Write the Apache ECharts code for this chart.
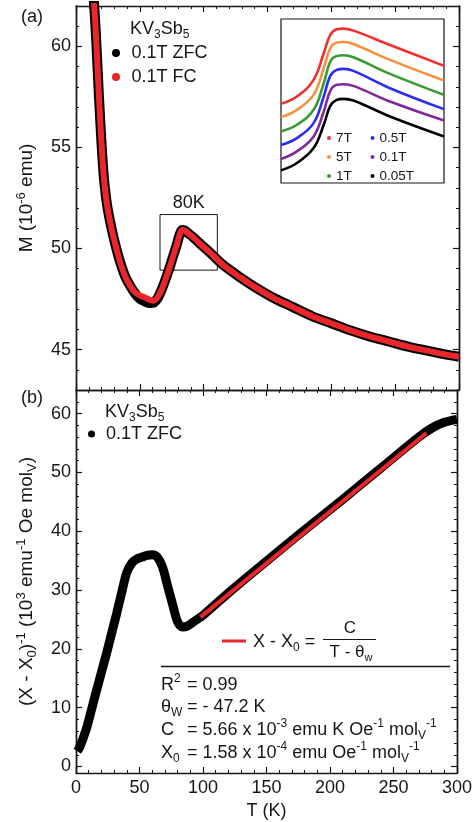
<!DOCTYPE html>
<html>
<head>
<meta charset="utf-8">
<script src="https://cdn.jsdelivr.net/npm/echarts@6/dist/echarts.min.js"></script>
<style>
  html, body { margin: 0; padding: 0; background: #fff; }
  #chart { width: 475px; height: 822px; }
</style>
</head>
<body>
<div id="chart"></div>
<script>
// ---- panel (a): M vs T, 0.1 T ZFC / FC ----
const tempA = [13.5, 14.5, 16, 18, 20, 21, 22, 23, 24, 25, 26.5, 28, 30, 32, 34, 38, 42, 46, 50, 54,
               58, 61, 64, 67, 70, 73, 76, 79, 81, 83, 85, 88, 92, 97, 105, 115, 128, 140, 155, 170,
               185, 200, 215, 230, 245, 260, 275, 290, 300];
const zfcM = [62.6, 61.8, 60.1, 57.5, 55.2, 54.2, 53.4, 52.8, 52.3, 51.9, 51.4, 50.95, 50.4, 49.9,
              49.45, 48.7, 48.2, 47.8, 47.52, 47.38, 47.3, 47.33, 47.55, 47.95, 48.45, 49.0, 49.6,
              50.2, 50.65, 50.92, 50.9, 50.75, 50.55, 50.25, 49.8, 49.2, 48.6, 48.1, 47.55, 47.1,
              46.65, 46.3, 45.95, 45.65, 45.4, 45.15, 44.95, 44.75, 44.65];
const fcM = [62.6, 61.8, 60.1, 57.5, 55.2, 54.2, 53.4, 52.8, 52.3, 51.9, 51.4, 50.95, 50.4, 49.9,
             49.45, 48.7, 48.2, 47.85, 47.68, 47.58, 47.46, 47.42, 47.6, 47.95, 48.45, 49.0, 49.6,
             50.2, 50.65, 50.92, 50.9, 50.75, 50.55, 50.25, 49.8, 49.2, 48.6, 48.1, 47.55, 47.1,
             46.65, 46.3, 45.95, 45.65, 45.4, 45.15, 44.95, 44.75, 44.65];
const boxT = [65.8, 110.7];
const boxM = [48.93, 51.68];

// ---- inset: curves around 80 K for several fields (offset, arb. units) ----
const insetT = [66, 70.4, 75, 77.8, 79.6, 81.4, 83.3, 86, 96.1, 111];
const inset7T   = [23.8, 26.0, 31.0, 39.0, 44.5, 46.2, 46.4, 45.8, 41.5, 35.2];
const inset5T   = [19.8, 22.0, 26.5, 34.5, 40.5, 42.2, 42.4, 41.8, 37.0, 30.8];
const inset1T   = [15.5, 17.5, 22.0, 30.0, 36.5, 38.2, 38.4, 37.8, 32.8, 26.5];
const inset05T  = [11.4, 13.5, 18.0, 26.0, 32.2, 34.0, 34.3, 33.7, 28.5, 22.2];
const inset01T  = [7.2, 9.5, 14.0, 21.5, 27.7, 29.5, 29.7, 29.2, 24.5, 18.8];
const inset005T = [3.8, 6.0, 10.5, 17.5, 23.2, 25.0, 25.3, 24.8, 20.0, 14.0];

// ---- panel (b): inverse susceptibility ----
const tempB = [1, 3, 8, 12, 16, 20, 24, 28, 32, 36, 40, 44, 48, 52, 56, 60, 64, 68, 72, 76, 80, 84,
               88, 92, 96, 100, 120, 150, 180, 210, 240, 270, 280, 290, 300];
const invChi = [2.6, 3.3, 6.3, 9.5, 12.8, 16.0, 19.2, 22.6, 26.0, 29.6, 33.0, 34.6, 35.3, 35.6, 35.9,
                36.0, 35.6, 34.0, 30.8, 27.6, 24.6, 23.7, 23.9, 24.5, 25.1, 25.7, 29.5, 34.9, 40.2,
                45.4, 50.7, 56.0, 57.5, 58.5, 59.0];
const fitT = [98, 276];
const fitV = [25.4, 56.7];

// ---- ticks ----
const tTicks = [0, 50, 100, 150, 200, 250, 300];
const mTicks = [45, 50, 55, 60];
const chiTicks = [0, 10, 20, 30, 40, 50, 60];
const mMinor = [];
for (let v = 43; v <= 62; v++) mMinor.push(v);
const chiMinor = [];
for (let v = 0; v <= 64; v += 2) chiMinor.push(v);

const FONT = '"Liberation Sans", Arial, Helvetica, sans-serif';
const INK = '#161616';
const RED = '#e8262b';

function zip(xs, ys) { return xs.map((x, i) => [x, ys[i]]); }

function rich(size) {
  const sm = Math.round(size * 0.66);
  return {
    s: { fontSize: sm, fontFamily: FONT, color: INK, fill: INK, verticalAlign: 'top', lineHeight: sm },
    sb: { fontSize: sm, fontFamily: FONT, color: INK, fill: INK, verticalAlign: 'bottom', lineHeight: sm }
  };
}

function label(x, y, text, size, align) {
  return {
    type: 'text', x: x, y: y, z: 100,
    style: {
      text: text, fontSize: size, fontFamily: FONT, fill: INK,
      align: align || 'left', verticalAlign: 'middle', lineHeight: size + 6, rich: rich(size)
    }
  };
}

function seg(x1, y1, x2, y2, color, w) {
  return { type: 'line', z: 100, shape: { x1: x1, y1: y1, x2: x2, y2: y2 }, style: { stroke: color, lineWidth: w } };
}

const lineAx = { show: true, onZero: false, lineStyle: { color: INK, width: 1.4 } };

function xAxesFor(grid, showLabels) {
  const base = {
    type: 'value', gridIndex: grid, min: 0, max: 300, interval: 50,
    splitLine: { show: false }, axisLine: lineAx,
    axisTick: { inside: true, length: 6, lineStyle: { color: INK, width: 1.2 } },
    minorTick: { show: true, splitNumber: 5, length: 3, lineStyle: { color: INK, width: 1 } }
  };
  const bottom = Object.assign({}, base, {
    position: 'bottom',
    axisLabel: showLabels
      ? { show: true, fontSize: 18, color: INK, fontFamily: FONT, margin: 6, customValues: tTicks }
      : { show: false }
  });
  if (showLabels) {
    Object.assign(bottom, {
      name: 'T (K)', nameLocation: 'middle', nameGap: 29,
      nameTextStyle: { fontSize: 18, color: INK, fontFamily: FONT }
    });
  }
  const top = Object.assign({}, base, { position: 'top', axisLabel: { show: false } });
  return [bottom, top];
}

function yAxesFor(grid, min, max, major, minor, name, nameGap) {
  const base = { type: 'value', gridIndex: grid, min: min, max: max, splitLine: { show: false }, axisLine: lineAx };
  const majTick = { inside: true, length: 6, customValues: major, lineStyle: { color: INK, width: 1.2 } };
  const minTick = { inside: true, length: 3, customValues: minor, lineStyle: { color: INK, width: 1 } };
  return [
    Object.assign({}, base, {
      position: 'left', axisTick: majTick,
      axisLabel: { customValues: major, fontSize: 18, color: INK, fontFamily: FONT, margin: 5 },
      name: name, nameLocation: 'middle', nameGap: nameGap, nameRotate: 90,
      nameTextStyle: { fontSize: 19, color: INK, fontFamily: FONT, lineHeight: 24, rich: rich(19) }
    }),
    Object.assign({}, base, { position: 'left', axisTick: minTick, axisLabel: { show: false } }),
    Object.assign({}, base, { position: 'right', axisTick: majTick, axisLabel: { show: false } }),
    Object.assign({}, base, { position: 'right', axisTick: minTick, axisLabel: { show: false } })
  ];
}

const insetNames = ['7T', '5T', '1T', '0.5T', '0.1T', '0.05T'];
const insetData = [inset7T, inset5T, inset1T, inset05T, inset01T, inset005T];
const insetColors = ['#f0302f', '#f7903f', '#3a9b35', '#2c2cf2', '#7e2a9c', '#000000'];

const chart = echarts.init(document.getElementById('chart'), null, { renderer: 'canvas' });

const series = [
  {
    name: '0.1T ZFC', type: 'line', xAxisIndex: 0, yAxisIndex: 0, data: zip(tempA, zfcM),
    showSymbol: false, smooth: 0.3, z: 2, silent: true,
    lineStyle: { color: '#000', width: 10 }, itemStyle: { color: '#000' },
    markArea: {
      silent: true,
      itemStyle: { color: 'rgba(0,0,0,0)', borderColor: INK, borderWidth: 1 },
      label: { show: true, position: 'top', distance: 2, formatter: '80K', fontSize: 18, color: INK, fontFamily: FONT },
      data: [[{ xAxis: boxT[0], yAxis: boxM[1] }, { xAxis: boxT[1], yAxis: boxM[0] }]]
    }
  },
  {
    name: '0.1T FC', type: 'line', xAxisIndex: 0, yAxisIndex: 0, data: zip(tempA, fcM),
    showSymbol: false, smooth: 0.3, z: 3, silent: true,
    lineStyle: { color: RED, width: 6 }, itemStyle: { color: RED }
  }
];
insetNames.forEach(function (n, i) {
  series.push({
    name: n, type: 'line', xAxisIndex: 4, yAxisIndex: 8, data: zip(insetT, insetData[i]),
    showSymbol: false, smooth: 0.4, z: 4, silent: true,
    lineStyle: { color: insetColors[i], width: 2.6 }, itemStyle: { color: insetColors[i] }
  });
});
series.push(
  {
    name: '0.1T ZFC', type: 'line', xAxisIndex: 2, yAxisIndex: 4, data: zip(tempB, invChi),
    showSymbol: false, smooth: 0.3, z: 2, silent: true,
    lineStyle: { color: '#000', width: 9 }, itemStyle: { color: '#000' }
  },
  {
    name: 'fit', type: 'line', xAxisIndex: 2, yAxisIndex: 4, data: zip(fitT, fitV),
    showSymbol: false, z: 3, silent: true,
    lineStyle: { color: RED, width: 4 }, itemStyle: { color: RED }
  }
);

function legendText(size, gap) {
  return { fontSize: size, color: INK, fontFamily: FONT, lineHeight: size, padding: [0, 0, 0, gap] };
}

const option = {
  backgroundColor: '#fff',
  animation: false,
  grid: [
    { left: 76, top: 6, width: 383, height: 384 },
    { left: 76, top: 390, width: 383, height: 383 },
    { left: 281, top: 19, width: 163, height: 164, show: true, backgroundColor: '#fff', borderColor: INK, borderWidth: 1.2, z: 1 }
  ],
  xAxis: xAxesFor(0, false).concat(xAxesFor(1, true)).concat([
    { type: 'value', gridIndex: 2, min: 66, max: 111, show: false }
  ]),
  yAxis: yAxesFor(0, 43, 62, mTicks, mMinor, 'M (10{s|-6} emu)', 37)
    .concat(yAxesFor(1, -1.1, 64, chiTicks, chiMinor,
      '(Χ - Χ{sb|0}){s|-1} (10{s|3} emu{s|-1} Oe mol{sb|V})', 37))
    .concat([{ type: 'value', gridIndex: 2, min: 0, max: 49.3, show: false }]),
  legend: [
    {
      data: ['0.1T ZFC', '0.1T FC'], orient: 'vertical', left: 112, top: 44, padding: 0,
      icon: 'circle', itemWidth: 8, itemHeight: 8, itemGap: 6, selectedMode: false,
      itemStyle: { borderWidth: 0 }, textStyle: legendText(18, 6.5)
    },
    {
      data: ['0.1T ZFC'], orient: 'vertical', left: 88, top: 425, padding: 0,
      icon: 'circle', itemWidth: 7, itemHeight: 7, selectedMode: false,
      itemStyle: { borderWidth: 0 }, textStyle: legendText(18, 6)
    },
    {
      data: ['7T', '5T', '1T'], orient: 'vertical', left: 327, top: 131, padding: 0,
      icon: 'circle', itemWidth: 4, itemHeight: 4, itemGap: 5, selectedMode: false,
      itemStyle: { borderWidth: 0 }, textStyle: legendText(13.5, 0)
    },
    {
      data: ['0.5T', '0.1T', '0.05T'], orient: 'vertical', left: 370.5, top: 131, padding: 0,
      icon: 'circle', itemWidth: 4, itemHeight: 4, itemGap: 5, selectedMode: false,
      itemStyle: { borderWidth: 0 }, textStyle: legendText(13.5, 0)
    }
  ],
  graphic: [
    label(21, 17, '(a)', 18),
    label(21, 398, '(b)', 18),
    label(130, 29, 'KV{sb|3}Sb{sb|5}', 18),
    label(105, 412, 'KV{sb|3}Sb{sb|5}', 18),
    seg(222, 641, 246, 641, RED, 3),
    label(253, 642, 'Χ - Χ{sb|0} =', 18),
    label(350, 628, 'C', 17, 'center'),
    seg(323, 639.5, 376, 639.5, INK, 1.2),
    label(351, 652, 'T - θ{sb|w}', 17, 'center'),
    seg(161, 666.5, 450, 666.5, INK, 1.5),
    label(161, 685, 'R{s|2}', 18),
    label(187, 685, '= 0.99', 18),
    label(161, 707, 'θ{sb|W}', 18),
    label(187, 707, '= - 47.2 K', 18),
    label(161, 730, 'C', 18),
    label(187, 730, '= 5.66 x 10{s|-3} emu K Oe{s|-1} mol{sb|V}{s|-1}', 18),
    label(161, 753, 'Χ{sb|0}', 18),
    label(187, 753, '= 1.58 x 10{s|-4} emu Oe{s|-1} mol{sb|V}{s|-1}', 18)
  ],
  series: series
};

chart.setOption(option);
</script>
</body>
</html>
